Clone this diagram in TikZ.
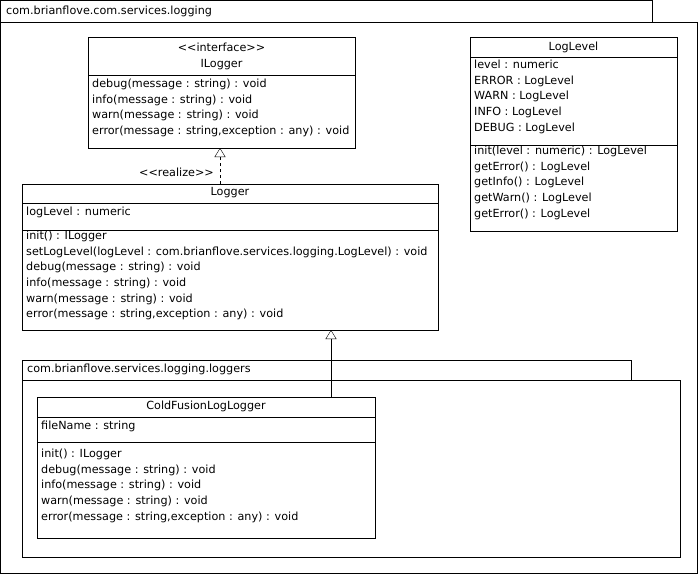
\documentclass[tikz,border=0pt]{standalone}
\usepackage{fontspec}
\setmainfont{DejaVu Sans}
\usetikzlibrary{arrows.meta, positioning, calc}
\definecolor{umlLine}{RGB}{0, 0, 0}
\begin{document}
\begin{tikzpicture}[x=1pt, y=-1pt]
        \tikzstyle{pkg} = [rectangle, draw=umlLine, anchor=north west, inner sep=0pt]
        \tikzstyle{cls} = [rectangle, draw=umlLine, fill=white, anchor=north west, inner sep=0pt]
        \tikzstyle{txt} = [anchor=north west, align=left, inner sep=0pt, font=\fontsize{11.2}{15.6}\selectfont]
        \tikzstyle{ttl} = [inner sep=0pt, font=\fontsize{11.2}{15.6}\selectfont]
        \tikzstyle{realize} = [-{Triangle[open, length=9pt, width=11pt]}, dashed, thin]
        \tikzstyle{inherit} = [-{Triangle[open, length=9pt, width=11pt]}, thin]
        \useasboundingbox (0,0) rectangle (700,575);

        % packages
        \node[pkg, minimum width=652pt, minimum height=22pt] (logTab) at (0,0) {};
        \node[pkg, minimum width=697pt, minimum height=551pt] (logPkg) at (0,22) {};
        \node[ttl, anchor=west] at (6,11) {com.brianflove.com.services.logging};
        \node[pkg, minimum width=609pt, minimum height=20pt] (loggersTab) at (22,360) {};
        \node[pkg, minimum width=658pt, minimum height=177pt] (loggersPkg) at (22,380) {};
        \node[ttl, anchor=west] at (27,369) {com.brianflove.services.logging.loggers};

        % ILogger
        \node[cls, minimum width=267pt, minimum height=111pt] (ilogger) at (88,37) {};
        \draw (88,75) -- (355,75);
        \node[ttl] at (221.5,47) {<{}<interface>{}>};
        \node[ttl] at (221.5,65) {ILogger};
        \node[txt] at (92,79) {debug(message : string) : void\\info(message : string) : void\\warn(message : string) : void\\error(message : string,exception : any) : void};

        % LogLevel
        \node[cls, minimum width=207pt, minimum height=194pt] (logLevel) at (470,37) {};
        \draw (470,57) -- (677,57);
        \draw (470,145) -- (677,145);
        \node[ttl] at (573.5,47) {LogLevel};
        \node[txt] at (474,60) {level : numeric\\ERROR : LogLevel\\WARN : LogLevel\\INFO : LogLevel\\DEBUG : LogLevel};
        \node[txt] at (474,146) {init(level : numeric) : LogLevel\\getError() : LogLevel\\getInfo() : LogLevel\\getWarn() : LogLevel\\getError() : LogLevel};

        % Logger
        \node[cls, minimum width=416pt, minimum height=146pt] (logger) at (22,184) {};
        \draw (22,203) -- (438,203);
        \draw (22,230) -- (438,230);
        \node[ttl] at (230,193) {Logger};
        \node[txt] at (26,207) {logLevel : numeric};
        \node[txt] at (26,231) {init() : ILogger\\setLogLevel(logLevel : com.brianflove.services.logging.LogLevel) : void\\debug(message : string) : void\\info(message : string) : void\\warn(message : string) : void\\error(message : string,exception : any) : void};

        % ColdFusionLogLogger
        \node[cls, minimum width=338pt, minimum height=141pt] (cfLogger) at (37,397) {};
        \draw (37,417) -- (375,417);
        \draw (37,442) -- (375,442);
        \node[ttl] at (206,406) {ColdFusionLogLogger};
        \node[txt] at (41,421) {fileName : string};
        \node[txt] at (41,449) {init() : ILogger\\debug(message : string) : void\\info(message : string) : void\\warn(message : string) : void\\error(message : string,exception : any) : void};

        % relations
        \coordinate (realFrom) at (220,184);
        \coordinate (realTo) at (220,148);
        \coordinate (inhFrom) at (331,397);
        \coordinate (inhTo) at (331,330);
        \draw[realize] (realFrom) -- (realTo);
        \node[ttl, anchor=east] at (214,172) {<{}<realize>{}>};
        \draw[inherit] (inhFrom) -- (inhTo);
\end{tikzpicture}
\end{document}
